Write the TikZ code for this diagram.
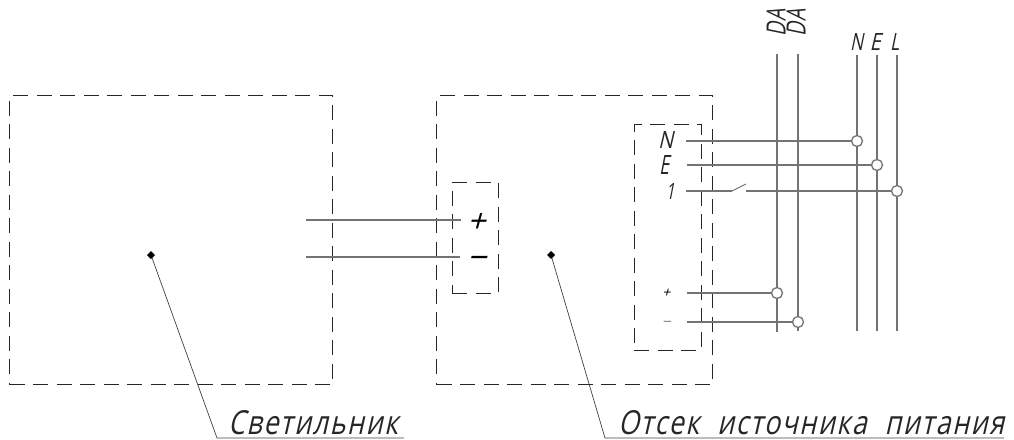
\documentclass[tikz,border=0pt]{standalone}
\usepackage{fontspec}
\usepackage{graphicx}
\newfontfamily\gost[FakeSlant=0.28,LetterSpace=6]{Open Sans}
\newfontfamily\gostsign[FakeSlant=0.28]{Open Sans}
\tikzset{
  dbox/.style={draw=black!85,dash pattern=on 15pt off 8.5pt,line width=0.8pt,inner sep=0,outer sep=0},
  wire/.style={draw=black!55,line width=1.4pt},
  leader/.style={draw=black!75,line width=0.7pt},
  tap/.style={circle,draw=black!55,fill=white,line width=1.3pt,minimum size=11pt,inner sep=0,outer sep=0},
  dotn/.style={diamond,fill=black,minimum size=0,inner sep=2pt,outer sep=0},
  lab/.style={inner sep=0,outer sep=0,text=black!85,font=\gost},
  sign/.style={inner sep=0,outer sep=0,anchor=base,font=\gostsign}
}
\usetikzlibrary{shapes.geometric}
\newcommand{\fitbox}[3]{\resizebox{#1pt}{#2pt}{#3}}
\begin{document}
\begin{tikzpicture}[x=1pt,y=-1pt]
\useasboundingbox (0,0) rectangle (1014,439);
% boxes
\node[dbox,minimum width=323pt,minimum height=289pt] (lamp) at (171,240) {};
\node[dbox,minimum width=276pt,minimum height=289pt] (psu) at (574.5,240) {};
\node[dbox,minimum width=46pt,minimum height=111pt] (term) at (475,237.5) {};
\node[dbox,minimum width=67pt,minimum height=226pt] (block) at (667.5,237) {};
% bus ends
\coordinate (da1t) at (777,54); \coordinate (da1b) at (777,332);
\coordinate (da2t) at (798,54); \coordinate (da2b) at (798,331);
\coordinate (nt) at (857,55); \coordinate (nb) at (857,331);
\coordinate (et) at (877,55); \coordinate (eb) at (877,331);
\coordinate (lt) at (897,55); \coordinate (lb) at (897,331);
\draw[wire] (da1t) -- (da1b);
\draw[wire] (da2t) -- (da2b);
\draw[wire] (nt) -- (nb);
\draw[wire] (et) -- (eb);
\draw[wire] (lt) -- (lb);
% taps
\node[tap] (tn) at (857,141) {};
\node[tap] (te) at (877,165) {};
\node[tap] (tl) at (897,191) {};
\node[tap] (tp) at (777,293) {};
\node[tap] (tm) at (798,322) {};
% wires from block
\coordinate (wn) at (686,141);
\coordinate (we) at (687,165);
\coordinate (w1) at (686,191);
\coordinate (swa) at (732,191);
\coordinate (swb) at (746,184);
\coordinate (swc) at (746,191);
\coordinate (wp) at (687,293);
\coordinate (wm) at (687,322);
\draw[wire] (wn) -- (tn);
\draw[wire] (we) -- (te);
\draw[wire] (w1) -- (swa);
\draw[wire,line width=1pt] (swa) -- (swb);
\draw[wire] (swc) -- (tl);
\draw[wire] (wp) -- (tp);
\draw[wire] (wm) -- (tm);
% wires lamp to terminal
\coordinate (l1) at (306,220); \coordinate (r1) at (461,220);
\coordinate (l2) at (306,257); \coordinate (r2) at (460,257);
\draw[wire] (l1) -- (r1);
\draw[wire] (l2) -- (r2);
% leaders
\node[dotn] (d1) at (151,255) {};
\node[dotn] (d2) at (551,255) {};
\coordinate (k1) at (217,438); \coordinate (e1) at (404,438);
\coordinate (k2) at (605,438); \coordinate (e2) at (1004,438);
\draw[leader] (d1) -- (k1) -- (e1);
\draw[leader] (d2) -- (k2) -- (e2);
% captions
\node[lab,anchor=south west] (cap1) at (228,435) {\fitbox{170}{24}{Светильник}};
\node[lab,anchor=south west] (cap2) at (618,435) {\fitbox{386}{24}{Отсек\hspace{0.35em} источника\hspace{0.35em} питания}};
% bus labels
\node[lab,rotate=90] (la1) at (776,23) {\fitbox{27}{19}{DA}};
\node[lab,rotate=90] (la2) at (796,23) {\fitbox{27}{19}{DA}};
\node[lab] (ln) at (856.5,41.5) {\fitbox{13}{17}{N}};
\node[lab] (le) at (875,41.5) {\fitbox{11}{17}{E}};
\node[lab] (ll) at (894.5,41.5) {\fitbox{9}{17}{L}};
% block labels
\node[lab] (bn) at (665.5,139.5) {\fitbox{15}{17}{N}};
\node[lab] (be) at (664,164.5) {\fitbox{10}{19}{E}};
\node[lab] (b1) at (670,191) {\fitbox{9}{16}{1}};
\node[sign,text=black] (bp) at (666,297) {\fontsize{14}{14}\selectfont +};
\node[sign,text=black!50] (bm) at (666,327) {\fontsize{16}{16}\selectfont −};
% terminal signs
\node[sign,text=black] (sp) at (476,232) {\fontsize{32}{32}\selectfont +};
\node[sign,text=black] (sm) at (476,269) {\fontsize{34}{34}\selectfont −};
\end{tikzpicture}
\end{document}
